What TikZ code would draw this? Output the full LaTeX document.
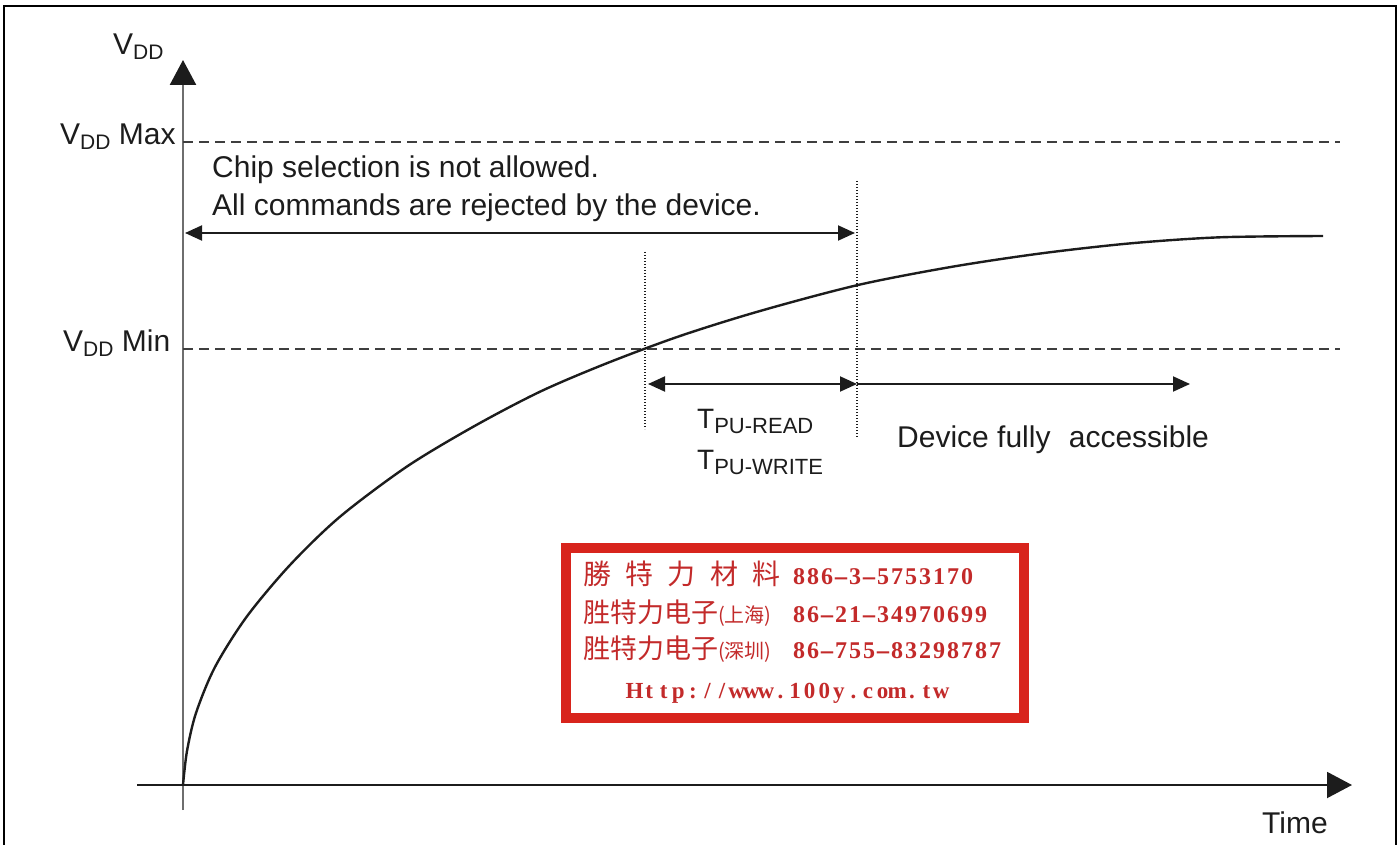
\documentclass[tikz,border=0pt]{standalone}
\usepackage{fontspec}
\setmainfont{Liberation Sans}
\newfontfamily\cjk{Noto Sans CJK TC}
\newfontfamily\digser{Liberation Serif}
\usetikzlibrary{arrows.meta}
\definecolor{ink}{HTML}{1C1C1C}
\definecolor{axisgray}{HTML}{6E6E6E}
\definecolor{boxred}{RGB}{216,36,28}
\definecolor{textred}{RGB}{195,42,42}
\newcommand\lsub[1]{\raisebox{-5pt}{\fontsize{21}{21}\selectfont #1}}
\newcommand\tsub[1]{\raisebox{-5pt}{\fontsize{22}{22}\selectfont #1}}
\newcommand\mono[2]{\def\monow{#1}\monoA#2\relax}
\def\monoA#1{\ifx\relax#1\else\makebox[\monow][c]{\ifx-#1\scalebox{2}[1]{-}\else#1\fi}\expandafter\monoA\fi}
\newcommand\digits[1]{{\digser\bfseries\fontsize{24}{24}\selectfont\mono{14pt}{#1}}}
\begin{document}
\begin{tikzpicture}[x=1pt,y=-1pt,
  lbl/.style={inner sep=0pt, anchor=base west, text=ink, font=\fontsize{30}{36}\selectfont},
  stampl/.style={inner sep=0pt, anchor=base west, text=textred},
  axisline/.style={line width=2pt, draw=ink},
  span/.style={line width=2pt, draw=ink, >={Triangle[length=17pt,width=15pt]}},
  guide/.style={line width=1.8pt, draw=ink!85, dash pattern=on 10pt off 6pt},
  dotline/.style={line width=1.4pt, draw=ink, dash pattern=on 1.2pt off 1.8pt},
  curve/.style={line width=2.4pt, draw=ink}]
\useasboundingbox (0,0) rectangle (1398,845);
% frame
\coordinate (fbl) at (4,845); \coordinate (ftl) at (4,6);
\coordinate (ftr) at (1396,6); \coordinate (fbr) at (1396,845);
\draw[line width=2.5pt, draw=black] (fbl) -- (ftl) -- (ftr) -- (fbr);
% axes
\coordinate (O) at (183,785);
\coordinate (ybot) at (183,810); \coordinate (ytop) at (183,60);
\coordinate (xl) at (137,785); \coordinate (xr) at (1352,785);
\draw[line width=2.5pt, draw=axisgray, -{Triangle[length=25pt,width=26pt,color=ink]}] (ybot) -- (ytop);
\draw[axisline, -{Triangle[length=25pt,width=26pt]}] (xl) -- (xr);
% guides
\coordinate (maxl) at (183,142); \coordinate (maxr) at (1340,142);
\coordinate (minl) at (183,349); \coordinate (minr) at (1340,349);
\draw[guide] (maxl) -- (maxr);
\draw[guide] (minl) -- (minr);
% dotted markers
\coordinate (d1t) at (645,252); \coordinate (d1b) at (645,429);
\coordinate (d2t) at (857,181); \coordinate (d2b) at (857,437);
\draw[dotline] (d1t) -- (d1b);
\draw[dotline] (d2t) -- (d2b);
% curve
\draw[curve] plot[smooth, tension=0.5] coordinates {(183,785) (187,751) (196,713) (215,667) (246.7,616.7) (290,565) (340,516.7) (406.7,466.7) (473.3,426.7) (540,391.7) (606.7,363.3) (680,336) (760,311) (858,285) (952.5,266.7) (1041.8,253.3) (1131,243.3) (1220,237.3) (1323,236)};
% spans
\coordinate (c1) at (185,233); \coordinate (c2) at (855,233);
\coordinate (t1) at (648,384); \coordinate (t2) at (857,384);
\coordinate (a2) at (1190,384);
\draw[span, <->] (c1) -- (c2);
\draw[span, <->] (t1) -- (t2);
\draw[span, ->] (t2) -- (a2);
% labels
\node[lbl] (vdd) at (113,55) {V\lsub{DD}};
\node[lbl] (vmax) at (60,145) {V\lsub{DD} Max};
\node[lbl] (vmin) at (63,351) {V\lsub{DD} Min};
\node[lbl] (chip1) at (212,178) {Chip selection is not allowed.};
\node[lbl] (chip2) at (212,216) {All commands are rejected by the device.};
\node[lbl, font=\fontsize{28}{34}\selectfont] (tread) at (697,428) {T\tsub{PU-READ}};
\node[lbl, font=\fontsize{28}{34}\selectfont] (twrite) at (697,469) {T\tsub{PU-WRITE}};
\node[lbl] (dev) at (897,447) {Device fully\hspace{10pt} accessible};
\node[lbl] (time) at (1262,833) {Time};
% stamp
\node[draw=boxred, line width=10pt, minimum width=458pt, minimum height=170pt, inner sep=0pt, fill=white] (stamp) at (795,633) {};
\node[stampl] (s1) at (583,584) {\makebox[209pt][l]{\hspace*{-7pt}\cjk\fontsize{28}{28}\selectfont\mono{42.3pt}{勝特力材}\hspace*{7pt}料}\digits{886-3-5753170}};
\node[stampl] (s2) at (583,622) {\makebox[209pt][l]{\cjk\fontsize{27}{27}\selectfont 胜特力电子{\fontsize{20}{20}\selectfont(上海)}}\digits{86-21-34970699}};
\node[stampl] (s3) at (583,658) {\makebox[209pt][l]{\cjk\fontsize{27}{27}\selectfont 胜特力电子{\fontsize{20}{20}\selectfont(深圳)}}\digits{86-755-83298787}};
\node[stampl] (s4) at (627,698) {{\digser\bfseries\fontsize{23}{23}\selectfont\mono{14.6pt}{Http://www.100y.com.tw}}};
\end{tikzpicture}
\end{document}
